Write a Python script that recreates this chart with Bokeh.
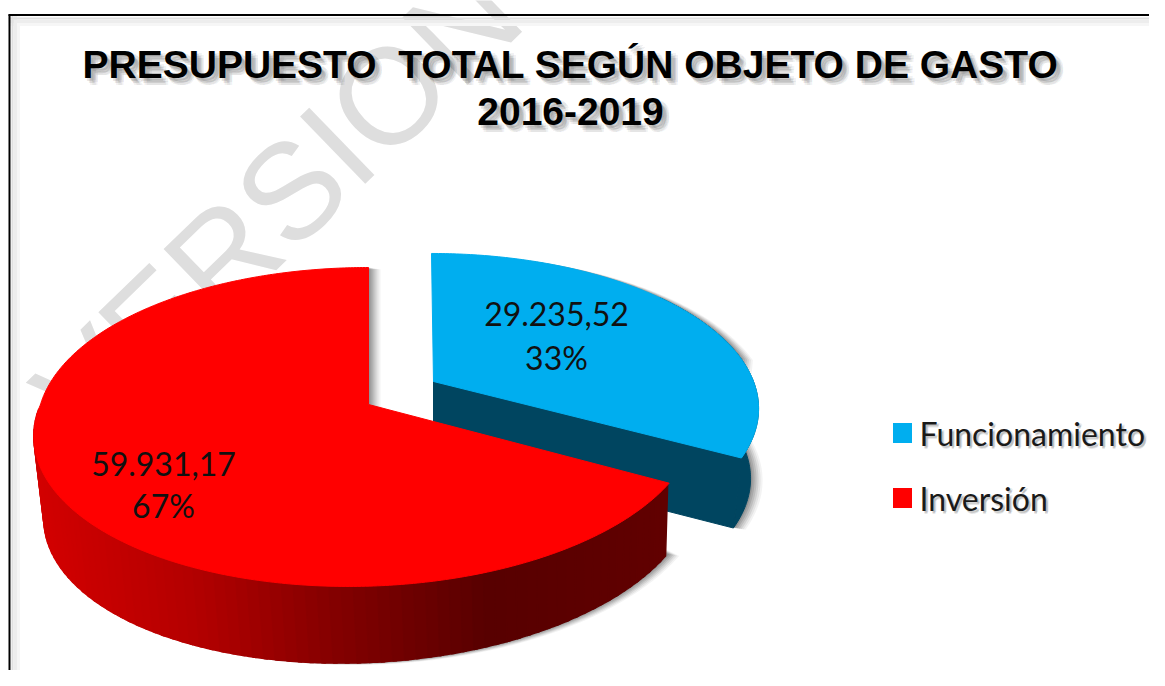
import numpy as np
from bokeh.plotting import figure
from bokeh.embed import file_html
from bokeh.resources import INLINE
from bokeh.core.properties import value

categories = ["Funcionamiento", "Inversión"]
amounts = [29235.52, 59931.17]
amount_labels = ["29.235,52", "59.931,17"]
percent_labels = ["33%", "67%"]
title_lines = ["PRESUPUESTO \u00a0TOTAL SEGÚN OBJETO DE GASTO", "2016-2019"]
top_colors = ["#00AEEF", "#FF0000"]
watermark = "VERSION"

W, H = 1149, 670
p = figure(width=W, height=H, x_range=(0, W), y_range=(H, 0),
           output_backend="svg", toolbar_location=None, min_border=0)
p.axis.visible = False
p.grid.visible = False
p.outline_line_color = None
p.background_fill_color = "white"
p.border_fill_color = "white"

share = np.array(amounts) / sum(amounts)
cut = 2 * np.pi * share[0]


def rim_red(t):
    u, v = np.sin(t), -np.cos(t)
    s = 1 - 0.141 * v
    return 368 + 328 * u / s - 20 * np.maximum(v, 0), 404 + 156.3 * v / s


def low_red(x, y):
    return 0.981 * x + 10.6, y + 82 - (x - 34) * 11 / 635


def rim_blue(t):
    u, v = np.sin(t), -np.cos(t)
    s = 1 - 0.17 * v
    return 433 + 320 * u / s + 2 * v, 381 + 149.8 * v / s


def low_blue(x, y):
    return x - 8, y + 70


ta = np.linspace(0, cut, 160)
tr = np.linspace(cut, 2 * np.pi, 400)
bx, by = rim_blue(ta)
blx, bly = low_blue(bx, by)
rx, ry = rim_red(tr)
rlx, rly = low_red(rx, ry)
apex_r = (368, 404)
apex_b = (433, 381)

# watermark behind everything
p.text([277], [203], text=[watermark], angle=0.77, text_font=value("Liberation Sans"),
       text_font_size="136px", text_color="#DEDEDE", text_align="center", text_baseline="middle")

# frame
for off, col, w in [(10, "#F6F6F6", 3), (7, "#EDEDED", 3), (4, "#E0E0E0", 2)]:
    p.line([8 + off, 8 + off], [14, H], line_color=col, line_width=w)
    p.line([8, W], [14 + off, 14 + off], line_color=col, line_width=w)
p.line([9, 9], [14, H], line_color="black", line_width=2)
p.line([8, W], [14.5, 14.5], line_color="black", line_width=2)

# soft shadows
iblue = np.argmin(np.abs(ta - 1.43))
sb_x = np.r_[apex_b[0], bx[:iblue], blx[iblue:], apex_b[0]]
sb_y = np.r_[apex_b[1], by[:iblue], bly[iblue:], apex_b[1] + 70]
ired = np.argmin(np.abs(tr - 4.6))
sr_x = np.r_[apex_r[0], rlx[:ired], rx[ired:]]
sr_y = np.r_[apex_r[1], rly[:ired], ry[ired:]]
for d, a in [(12, .06), (10, .08), (8, .10), (6, .12), (4, .14), (2, .16)]:
    p.patch(sb_x + d, sb_y + d * .15, fill_color="#303030", fill_alpha=a, line_color=None)
    p.patch(sr_x + d, sr_y + d * .15, fill_color="#303030", fill_alpha=a, line_color=None)

# blue slice
navy = "#004560"
p.patch(np.r_[bx[70:], blx[70:][::-1]], np.r_[by[70:], bly[70:][::-1]], fill_color=navy, line_color=navy)
p.patch([apex_b[0], bx[-1], blx[-1], apex_b[0]], [apex_b[1], by[-1], bly[-1], apex_b[1] + 70],
        fill_color=navy, line_color=navy)
p.patch(np.r_[apex_b[0], bx], np.r_[apex_b[1], by], fill_color=top_colors[0], line_color=top_colors[0])

# red slice: outer wall in strips (front half only), darkening from left to right
stops_x = [34, 200, 350, 497, 680]
stops_r = [212, 180, 130, 88, 98]
xs, ys, cs = [], [], []
for i in range(ired + 4, -1, -3):
    j = i + 5
    xs.append(np.r_[rx[i:j], rlx[i:j][::-1]])
    ys.append(np.r_[ry[i:j], rly[i:j][::-1]])
    c = int(np.interp(rx[i], stops_x, stops_r))
    cs.append(f"#{c:02x}0000")
p.patches(xs, ys, fill_color=cs, line_color=cs, line_width=1.5)
p.patch(np.r_[apex_r[0], rx], np.r_[apex_r[1], ry], fill_color=top_colors[1], line_color=top_colors[1])

# title with blurred shadow
font_t = value("Liberation Sans")
ty = [64, 111]
for dx, dy, a in [(7, 7, .06), (5, 7, .08), (7, 4, .08), (4, 5, .12), (2, 3, .14), (5, 2, .08)]:
    p.text([570 + dx, 570 + dx], [ty[0] + dy, ty[1] + dy], text=title_lines, text_font=font_t,
           text_font_style="bold", text_font_size="39px", text_color="#303030", text_alpha=a,
           text_align="center", text_baseline="middle")
p.text([570, 570], ty, text=title_lines, text_font=font_t, text_font_style="bold",
       text_font_size="39px", text_color="#000000", text_align="center", text_baseline="middle")

# data labels
font_l = value("Lato")
lab_x = [556, 163]
p.text(lab_x, [313, 463], text=amount_labels, text_font=font_l, text_font_size="32px",
       text_color="#111111", text_align="center", text_baseline="middle")
p.text(lab_x, [357, 505], text=percent_labels, text_font=font_l, text_font_size="32px",
       text_color="#111111", text_align="center", text_baseline="middle")

# legend
leg_y = [432.5, 497.5]
leg_x = 919
for dx, dy, a in [(2, 3, .12), (2, 2, .16), (3, 1, .10)]:
    p.text([leg_x + dx] * 2, [leg_y[0] + dy, leg_y[1] + dy], text=categories, text_font=font_l,
           text_font_size="32px", text_color="#404040", text_alpha=a, text_baseline="middle")
p.rect([leg_x - 17] * 2, leg_y, width=19, height=20, fill_color=top_colors, line_color=None)
p.text([leg_x] * 2, leg_y, text=categories, text_font=font_l, text_font_size="32px",
       text_color="#1a1a1a", text_baseline="middle")

open("out.html", "w").write(file_html(p, INLINE))
